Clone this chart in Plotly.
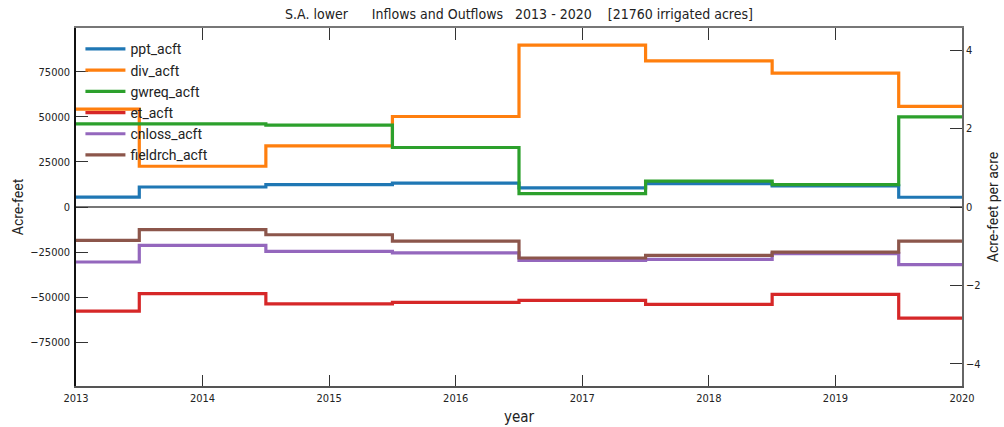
import plotly.graph_objects as go

# Annual water budget, S.A. lower (acre-feet)
years = [2013, 2014, 2015, 2016, 2017, 2018, 2019, 2020]
IRRIGATED_ACRES = 21760

ppt_acft = [5500, 11100, 12400, 13200, 10600, 13000, 11700, 5400]
div_acft = [54300, 22600, 33900, 50200, 89800, 81100, 74300, 55800]
gwreq_acft = [46100, 46100, 45400, 33000, 7400, 14400, 12400, 50000]
et_acft = [-57800, -48100, -53700, -52900, -51800, -54000, -48500, -61600]
cnloss_acft = [-30500, -21300, -24600, -25500, -29600, -29100, -25900, -32000]
fieldrch_acft = [-18500, -12600, -15400, -18900, -28300, -26800, -25000, -18900]

series = [
    ("ppt_acft", ppt_acft, "#1f77b4"),
    ("div_acft", div_acft, "#ff7f0e"),
    ("gwreq_acft", gwreq_acft, "#2ca02c"),
    ("et_acft", et_acft, "#d62728"),
    ("cnloss_acft", cnloss_acft, "#9467bd"),
    ("fieldrch_acft", fieldrch_acft, "#8c564b"),
]

left_ticks = [-75000, -50000, -25000, 0, 25000, 50000, 75000]
right_ticks = [-4, -2, 0, 2, 4]
x_ticks = years

y_lim = 99300
narrow = "DejaVu Sans Condensed, Liberation Sans Narrow, sans-serif"
regular = "Roboto, Liberation Sans, sans-serif"

fig = go.Figure()
for name, vals, color in series:
    fig.add_trace(go.Scatter(
        x=years, y=vals, name=name, mode="lines",
        line=dict(color=color, width=3.2, shape="hvh"),
    ))

# per-acre companion trace so the right and top axes are drawn
fig.add_trace(go.Scatter(
    x=years, y=[v / IRRIGATED_ACRES for v in ppt_acft], xaxis="x2", yaxis="y2",
    mode="lines", line=dict(width=0, shape="hvh"), opacity=0,
    showlegend=False, hoverinfo="skip",
))

sp = "\u00a0"
title = ("S.A. lower" + sp * 6 + "Inflows and Outflows" + sp * 3 + "2013 - 2020"
         + sp * 4 + "[21760 irrigated acres]")

tick_font = dict(family=narrow, size=11, color="#222")

fig.update_layout(
    width=1004, height=427,
    margin=dict(l=76, r=42, t=28, b=41),
    paper_bgcolor="white", plot_bgcolor="white",
    title=dict(text=title, x=0.5, xref="paper", xanchor="center", y=0.966, yanchor="middle",
               font=dict(family=narrow, size=14, color="#222")),
    showlegend=True,
    legend=dict(x=0.005, y=0.985, xanchor="left", yanchor="top",
                bgcolor="rgba(0,0,0,0)", font=dict(family=regular, size=14, color="#222"),
                tracegroupgap=0, itemwidth=40),
    xaxis=dict(
        range=[2013, 2020], tickvals=x_ticks, ticktext=[str(y) for y in x_ticks],
        ticks="inside", ticklen=11, tickcolor="#333", tickwidth=1,
        showline=True, linecolor="#555", linewidth=1.5,
        showgrid=False, zeroline=False, automargin=False,
        tickfont=tick_font, ticklabelstandoff=1,
        title=dict(text="year", font=dict(family=narrow, size=15, color="#222"), standoff=8),
    ),
    xaxis2=dict(
        overlaying="x", side="top",
        range=[2013, 2020], tickvals=x_ticks, showticklabels=False,
        ticks="inside", ticklen=12, tickcolor="#333", tickwidth=1,
        showline=True, linecolor="#777", linewidth=1.5,
        showgrid=False, zeroline=False, automargin=False,
    ),
    yaxis=dict(
        range=[-y_lim, y_lim], tickvals=left_ticks, tickformat="d",
        ticks="inside", ticklen=12, tickcolor="#333", tickwidth=1,
        showline=True, linecolor="#111", linewidth=1.5,
        showgrid=False, zeroline=True, zerolinecolor="#777", zerolinewidth=1.5,
        tickfont=tick_font, ticklabelstandoff=2, automargin=False,
        title=dict(text="Acre-feet", font=dict(family=regular, size=14, color="#222"), standoff=3),
    ),
    yaxis2=dict(
        overlaying="y", side="right",
        range=[-y_lim / IRRIGATED_ACRES, y_lim / IRRIGATED_ACRES], tickvals=right_ticks,
        ticks="inside", ticklen=12, tickcolor="#333", tickwidth=1,
        showline=True, linecolor="#666", linewidth=1.5,
        showgrid=False, zeroline=False, automargin=False,
        tickfont=tick_font,
        title=dict(text="Acre-feet per acre", font=dict(family=regular, size=14, color="#222"), standoff=9),
    ),
)

fig.write_html("out.html")
